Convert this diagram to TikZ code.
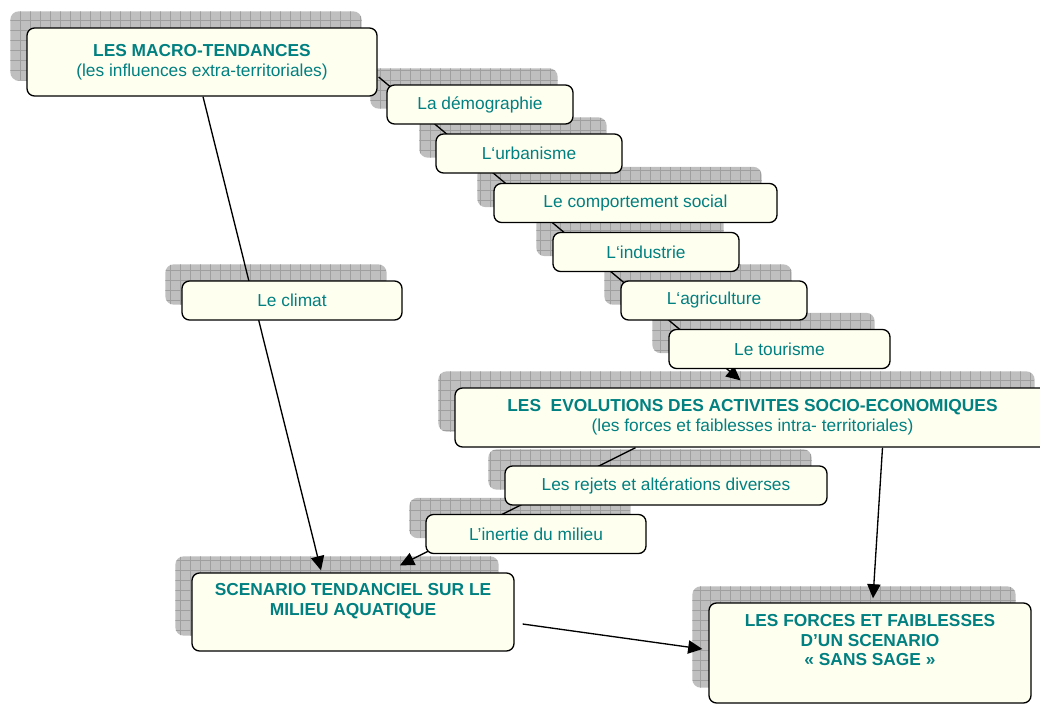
\documentclass[tikz,border=0pt]{standalone}
\usepackage{fontspec}
\setmainfont{Liberation Sans}
\usetikzlibrary{arrows.meta,calc}

\definecolor{creme}{RGB}{255,255,240}
\definecolor{sarcelle}{RGB}{0,128,128}

\pgfdeclarelayer{ombres}
\pgfdeclarelayer{liens}
\pgfsetlayers{ombres,liens,main}

\tikzset{
  boite/.style={draw, line width=0.8pt, rounded corners=4.5pt, fill=creme,
    text=sarcelle, align=center, inner sep=0pt,
    font=\fontsize{10.4}{12}\selectfont},
  petite/.style={boite, minimum width=111.6pt, minimum height=23.4pt},
  ombre/.style={fill=gray!50, rounded corners=5pt,
    path picture={\draw[gray!75, line width=0.35pt, step=6pt]
      (path picture bounding box.south west) grid (path picture bounding box.north east);}},
  fleche/.style={line width=0.8pt, -{Triangle[length=8.5pt,width=8pt]}},
}

\begin{document}
\begin{tikzpicture}[x=0.6pt, y=-0.6pt]

\useasboundingbox (0,0) rectangle (1040,704);

% les influences extra-territoriales
\node[boite, minimum width=210pt, minimum height=40.8pt] (macro) at (202,62)
  {\textbf{LES MACRO-TENDANCES}\\(les influences extra-territoriales)};
\node[petite, minimum width=132pt] (climat) at (292,300.5) {Le climat};

% les activites
\node[petite] (demo) at (480,104.5) {La démographie};
\node[petite] (urba) at (529,153.5) {L‘urbanisme};
\node[petite, minimum width=169.8pt] (social) at (635.5,203) {Le comportement social};
\node[petite] (indus) at (646,252) {L‘industrie};
\node[petite] (agri) at (714,300.5) {L‘agriculture};
\node[petite, minimum width=132.6pt] (tour) at (779.5,349) {Le tourisme};

\node[boite, minimum width=357pt, minimum height=35.4pt] (evol) at (752.5,417.5)
  {\textbf{LES\ \ EVOLUTIONS DES ACTIVITES SOCIO-ECONOMIQUES}\\(les forces et faiblesses intra- territoriales)};
\node[petite, minimum width=193.2pt] (rejets) at (666,485.5) {Les rejets et altérations diverses};
\node[petite, minimum width=132pt] (inertie) at (536,534) {L’inertie du milieu};

% les scenarios
\node[boite, font=\fontsize{10.4}{12}\selectfont\bfseries, minimum width=193.2pt, minimum height=46.8pt] (scen) at (353,612)
  {SCENARIO TENDANCIEL SUR LE\\MILIEU AQUATIQUE\\\strut};
\node[boite, font=\fontsize{10.4}{11.7}\selectfont\bfseries, minimum width=193.2pt, minimum height=60pt] (forces) at (870,653)
  {LES FORCES ET FAIBLESSES\\D’UN SCENARIO\\« SANS SAGE »\\\strut};

\begin{pgfonlayer}{ombres}
\foreach \n in {macro,climat,demo,urba,social,indus,agri,tour,evol,rejets,inertie,scen,forces}
  \path[ombre] ($(\n.south west)+(-16,-16)$) rectangle ($(\n.north east)+(-16,-16)$);
\end{pgfonlayer}

\begin{pgfonlayer}{liens}
\draw[fleche] ($(macro.south)+(1,0)$) -- ($(scen.north)+(-32,-2)$);
\draw[fleche] ($(macro.east)+(1,15)$) -- ($(evol.north)+(-12,-7)$);
\draw[fleche] ($(evol.south)+(-117,0)$) -- ($(scen.north)+(47,-7)$);
\draw[fleche] ($(evol.south)+(130,0)$) -- ($(forces.north)+(3,-4)$);
\draw[fleche] ($(scen.east)+(8,12)$) -- ($(forces.west)+(-6,-4)$);
\end{pgfonlayer}

\end{tikzpicture}
\end{document}
